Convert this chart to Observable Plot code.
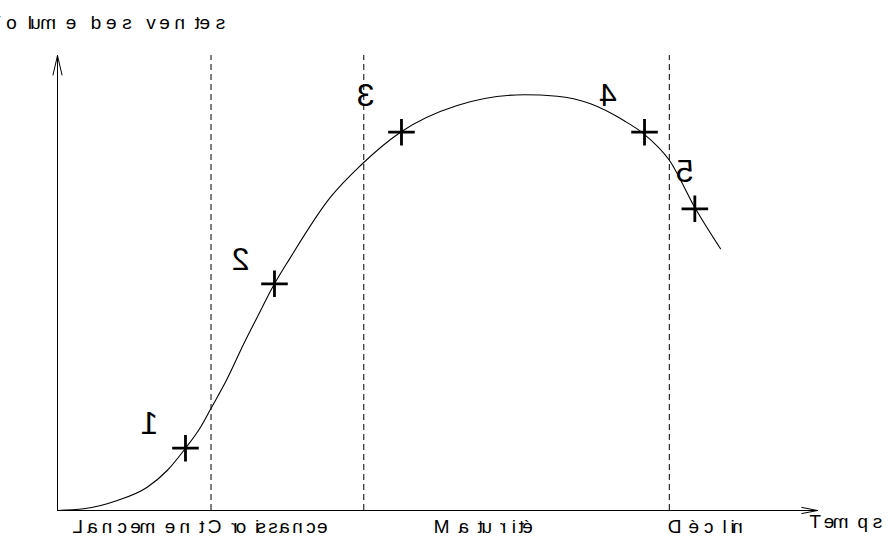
<!DOCTYPE html>
<html>
<head>
<meta charset="utf-8">
<script src="https://cdn.jsdelivr.net/npm/d3@7"></script>
<script src="https://cdn.jsdelivr.net/npm/@observablehq/plot@0.6"></script>
<style>
  html, body { margin: 0; padding: 0; background: #fff; }
  #chart svg { display: block; }
</style>
</head>
<body>
<div id="chart"></div>
<script>
// ---- data (time 0..100, sales volume 0..100) ----
const curveX = [0, 3.46, 7.86, 11.8, 14.43, 16.84, 18.82, 20.17, 22.33, 24.51, 26.28, 28.55, 30.5, 35.92, 39.87, 45.13, 52.59, 61.36, 65.75, 70.13, 74.51, 77.14, 80.53, 83.95, 87.24];
const curveY = [0, 0.37, 2.2, 5.12, 8.79, 13.69, 18.31, 22.35, 28.95, 36.64, 42.48, 49.82, 55.2, 68.86, 75.82, 83.14, 89.01, 91.36, 91.05, 89.38, 85.71, 82.79, 76.92, 66.31, 57.52];

const markerX = [16.84, 28.55, 45.26, 77.24, 83.86];
const markerY = [13.69, 49.82, 83.14, 83.14, 66.31];

const phaseBounds = [20.2, 40.3, 80.5];

const digitText = ["1", "2", "3", "4", "5"];
const digitX = [12.1, 24.08, 40.53, 72.43, 82.5];
const digitY = [16.86, 52.75, 89.01, 89.01, 72.15];

const labelText = ["Lancement", "Croissance", "Maturité", "Déclin", "Temps", "Volume des ventes"];
const labelX = [3.36, 21.58, 51.58, 82.11, 100.46, -7.5];
const labelY = [-5.05, -5.05, -5.05, -5.05, -3.74, 105.93];
const labelSpacing = [4.1, 2.4, 3.6, 3.8, 3.7, 4.6];

const font = "Liberation Sans, Arial, Helvetica, sans-serif";

const plusSymbol = {
  draw(ctx, size) {
    const r = Math.sqrt(size / Math.PI);
    ctx.moveTo(-r, 0); ctx.lineTo(r, 0);
    ctx.moveTo(0, -r); ctx.lineTo(0, r);
  }
};

const chart = Plot.plot({
  width: 893,
  height: 538,
  marginLeft: 57,
  marginRight: 76,
  marginTop: 55,
  marginBottom: 28,
  x: {domain: [0, 100], axis: null},
  y: {domain: [0, 100], axis: null},
  style: {background: "white", fontFamily: font},
  marks: [
    Plot.ruleX(phaseBounds, {y1: 0, y2: 100, stroke: "black", strokeWidth: 1, strokeDasharray: "6,4"}),
    Plot.arrow([0], {x1: 0, y1: 0, x2: 0, y2: 100, stroke: "black", strokeWidth: 1, headLength: 30, headAngle: 26}),
    Plot.arrow([0], {x1: 0, y1: 0, x2: 100, y2: 0, stroke: "black", strokeWidth: 1, headLength: 24, headAngle: 22}),
    Plot.line(curveX.map((x, i) => ({x, y: curveY[i]})), {x: "x", y: "y", curve: "monotone-x", stroke: "black", strokeWidth: 1.1}),
    Plot.dot(markerX.map((x, i) => ({x, y: markerY[i]})), {x: "x", y: "y", symbol: plusSymbol, r: 13.3, fill: "none", stroke: "black", strokeWidth: 2.8}),
    Plot.text(digitText, {x: digitX, y: digitY, text: digitText, fontSize: 32, fontFamily: font, fill: "black", textAnchor: "middle", lineAnchor: "bottom"}),
    Plot.text(labelText, {x: labelX, y: labelY, text: labelText, fontSize: 19, fontFamily: font, fill: "black", textAnchor: "start", lineAnchor: "bottom"})
  ]
});

document.getElementById("chart").appendChild(chart);

// Mirror every glyph in place (as in the reference figure).
const NS = "http://www.w3.org/2000/svg";
const allTexts = Array.from(chart.querySelectorAll("text"));
allTexts.forEach((t) => {
  const str = t.textContent;
  const tr = t.getAttribute("transform") || "";
  if (digitText.includes(str)) {
    const ext = t.getExtentOfChar(0);
    const cx = ext.x + ext.width / 2;
    t.setAttribute("transform", `${tr} translate(${2 * cx},0) scale(-1,1)`);
    return;
  }
  const k = labelText.indexOf(str);
  if (k < 0) return;
  t.setAttribute("letter-spacing", labelSpacing[k]);
  t.style.letterSpacing = labelSpacing[k] + "px";
  const n = t.getNumberOfChars();
  const g = t.parentNode;
  for (let i = 0; i < n; i++) {
    const ch = str[i];
    if (ch === " ") continue;
    const p = t.getStartPositionOfChar(i);
    const c = document.createElementNS(NS, "text");
    c.setAttribute("transform", `${tr} translate(${p.x},${p.y}) scale(-1,1)`);
    c.setAttribute("text-anchor", "start");
    c.textContent = ch;
    g.insertBefore(c, t);
  }
  g.removeChild(t);
});
</script>
</body>
</html>
